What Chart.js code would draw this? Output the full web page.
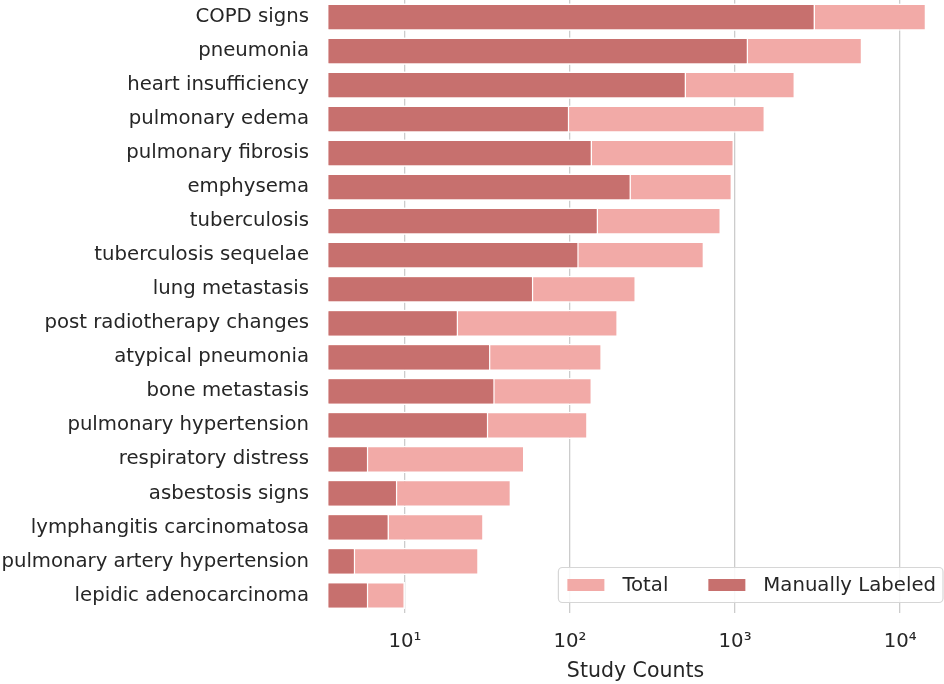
<!DOCTYPE html>
<html>
<head>
<meta charset="utf-8">
<script src="https://cdn.jsdelivr.net/npm/chart.js@4.4.1/dist/chart.umd.min.js"></script>
<style>
  html, body { margin: 0; padding: 0; background: #fff; }
  #wrap { width: 944px; height: 684px; position: relative; }
</style>
</head>
<body>
<div id="wrap"><canvas id="studyChart" width="944" height="684"></canvas></div>
<script>
// categories, top to bottom
const findings = [
  'COPD signs', 'pneumonia', 'heart insufficiency', 'pulmonary edema',
  'pulmonary fibrosis', 'emphysema', 'tuberculosis', 'tuberculosis sequelae',
  'lung metastasis', 'post radiotherapy changes', 'atypical pneumonia',
  'bone metastasis', 'pulmonary hypertension', 'respiratory distress',
  'asbestosis signs', 'lymphangitis carcinomatosa',
  'pulmonary artery hypertension', 'lepidic adenocarcinoma'
];
const totalCounts = [14400, 5900, 2310, 1520, 986, 960, 822, 650, 251, 195, 156, 136, 128, 53, 44, 30, 28, 10];
const manualCounts = [3050, 1200, 505, 99, 136, 234, 148, 113, 60, 21, 33, 35, 32, 6, 9, 8, 5, 6];
const xTicks = [10, 100, 1000, 10000];
const tickLabels = ['10\u00b9', '10\u00b2', '10\u00b3', '10\u2074'];

const totalColor = '#f2aaa7';
const manualColor = '#c7706e';
const textColor = '#262626';
const font = 'DejaVu Sans';

// matplotlib style legend box at lower right of the plot
const boxLegend = {
  id: 'boxLegend',
  afterDraw(chart) {
    const { ctx, chartArea } = chart;
    const items = [
      { label: 'Total', color: totalColor },
      { label: 'Manually Labeled', color: manualColor }
    ];
    const colGap = 40;
    ctx.save();
    ctx.font = '19.7px "' + font + '"';
    const right = chartArea.right - 1;
    const bottom = chartArea.bottom - 10;
    const h = 35;
    let w = 9 + 7 - colGap;
    items.forEach(it => { w += 37 + 18 + ctx.measureText(it.label).width + colGap; });
    const left = right - w;
    const top = bottom - h;
    ctx.fillStyle = 'rgba(255,255,255,0.85)';
    ctx.strokeStyle = '#d6d6d6';
    ctx.lineWidth = 1.2;
    ctx.beginPath();
    ctx.roundRect(left, top, w, h, 4);
    ctx.fill();
    ctx.stroke();
    let x = left + 9;
    const cy = top + h / 2;
    items.forEach(it => {
      ctx.fillStyle = it.color;
      ctx.fillRect(x, cy - 6, 37, 12);
      x += 37 + 18;
      ctx.fillStyle = textColor;
      ctx.textBaseline = 'middle';
      ctx.fillText(it.label, x, cy + 1);
      x += ctx.measureText(it.label).width + colGap;
    });
    ctx.restore();
  }
};

new Chart(document.getElementById('studyChart'), {
  type: 'bar',
  data: {
    labels: findings,
    datasets: [
      {
        label: 'Manually Labeled',
        data: manualCounts,
        backgroundColor: manualColor,
        borderColor: '#ffffff',
        borderWidth: 1.5,
        borderSkipped: false
      },
      {
        label: 'Total',
        data: totalCounts,
        backgroundColor: totalColor,
        borderColor: '#ffffff',
        borderWidth: 1.5,
        borderSkipped: false
      }
    ]
  },
  options: {
    indexAxis: 'y',
    responsive: false,
    animation: false,
    grouped: false,
    barPercentage: 0.8,
    categoryPercentage: 1.0,
    layout: { padding: 0 },
    scales: {
      x: {
        type: 'logarithmic',
        min: 3.37,
        max: 18450,
        afterBuildTicks: (scale) => {
          scale.ticks = xTicks.map(v => ({ value: v }));
        },
        afterFit: (scale) => {
          scale.height = 71.5;
          scale.paddingLeft = 0;
          scale.paddingRight = 0;
        },
        border: { display: false },
        grid: { color: '#cccccc', lineWidth: 1.3, drawTicks: false },
        ticks: {
          color: textColor,
          font: { family: font, size: 19.7 },
          padding: 18,
          maxRotation: 0,
          callback: (value) => tickLabels[xTicks.indexOf(value)] ?? ''
        },
        title: {
          display: true,
          text: 'Study Counts',
          color: textColor,
          font: { family: font, size: 20.5 },
          padding: { top: 5, bottom: 0 }
        }
      },
      y: {
        afterFit: (scale) => {
          scale.width = 327;
          scale.paddingTop = 0;
          scale.paddingBottom = 0;
        },
        border: { display: false },
        grid: { display: false, drawTicks: false },
        ticks: {
          color: textColor,
          font: { family: font, size: 19.7 },
          padding: 18
        }
      }
    },
    plugins: {
      legend: { display: false },
      tooltip: { enabled: false }
    }
  },
  plugins: [boxLegend]
});
</script>
</body>
</html>
